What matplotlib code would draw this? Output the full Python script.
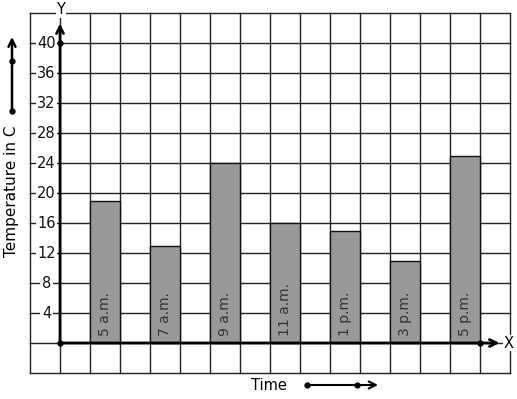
import matplotlib
matplotlib.use('Agg')

import matplotlib.pyplot as plt

# data
times = ["5 a.m.", "7 a.m.", "9 a.m.", "11 a.m.", "1 p.m.", "3 p.m.", "5 p.m."]
temps = [19, 13, 24, 16, 15, 11, 25]
bar_pos = [1.5, 3.5, 5.5, 7.5, 9.5, 11.5, 13.5]
yticks = [4, 8, 12, 16, 20, 24, 28, 32, 36, 40]

W, H = 517, 399
fig = plt.figure(figsize=(W / 100, H / 100), dpi=100)
ax = fig.add_axes([30 / W, (H - 373) / H, 480 / W, 360 / H])
ax.set_xlim(-1, 15)
ax.set_ylim(-4, 44)
ax.axis('off')

# grid
for x in range(-1, 16):
    ax.plot([x, x], [-4, 44], color='#222222', lw=1, zorder=1, clip_on=False)
for y in range(-4, 45, 4):
    ax.plot([-1, 15], [y, y], color='#222222', lw=1, zorder=1, clip_on=False)

# bars
ax.bar(bar_pos, temps, width=1.0, color='#999999', edgecolor='#111111', lw=1, zorder=2)
for x, lab in zip(bar_pos, times):
    ax.text(x, 0.9, lab, rotation=90, ha='center', va='bottom', fontsize=10,
            color='#333333', zorder=3)

# y tick labels
for t in yticks:
    ax.text(-0.45, t, str(t), ha='center', va='center', fontsize=10.5, color='#111111',
            zorder=3, bbox=dict(boxstyle='square,pad=0.1', fc='white', ec='none'))

# axes with arrows
ax.annotate('', xy=(0, 42.6), xytext=(0, 0), zorder=4, annotation_clip=False,
            arrowprops=dict(arrowstyle='->,head_length=0.5,head_width=0.25', lw=2, color='black',
                            shrinkA=0, shrinkB=0))
ax.annotate('', xy=(14.65, 0), xytext=(0, 0), zorder=4, annotation_clip=False,
            arrowprops=dict(arrowstyle='->,head_length=0.5,head_width=0.25', lw=2, color='black',
                            shrinkA=0, shrinkB=0))
ax.plot([0, 0, 14], [0, 40, 0], 'o', color='black', ms=3.5, zorder=5, clip_on=False)
ax.text(0.03, 44.4, 'Y', ha='center', va='center', fontsize=10.5, zorder=5,
        bbox=dict(boxstyle='square,pad=0.05', fc='white', ec='none'))
ax.text(14.95, 0, 'X', ha='center', va='center', fontsize=10.5, zorder=5,
        bbox=dict(boxstyle='square,pad=0.05', fc='white', ec='none'))

# axis titles with little arrows
ax.text(-1.6, 20.2, 'Temperature in C', rotation=90, ha='center', va='center', fontsize=11)
ax.annotate('', xy=(-1.6, 40.8), xytext=(-1.6, 30.9), annotation_clip=False,
            arrowprops=dict(arrowstyle='->,head_length=0.5,head_width=0.25', lw=1.8, color='black',
                            shrinkA=0, shrinkB=0))
ax.plot([-1.6, -1.6], [30.9, 37.6], 'o', color='black', ms=3.5, clip_on=False)

ax.text(6.97, -5.6, 'Time', ha='center', va='center', fontsize=10.5)
ax.annotate('', xy=(10.6, -5.6), xytext=(8.23, -5.6), annotation_clip=False,
            arrowprops=dict(arrowstyle='->,head_length=0.5,head_width=0.25', lw=1.5, color='black',
                            shrinkA=0, shrinkB=0))
ax.plot([8.23, 9.9], [-5.6, -5.6], 'o', color='black', ms=3.5, clip_on=False)

fig.savefig('out.png', dpi=100, facecolor='white')
